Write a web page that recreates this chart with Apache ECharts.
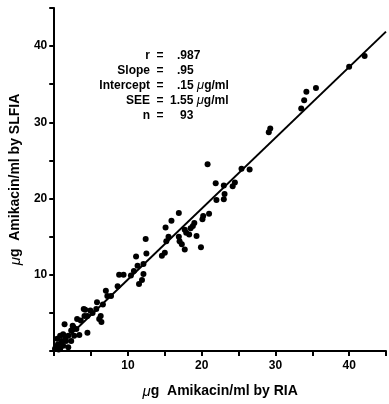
<!DOCTYPE html>
<html>
<head>
<meta charset="utf-8">
<script src="https://cdn.jsdelivr.net/npm/echarts@6/dist/echarts.min.js"></script>
<style>
  html, body { margin: 0; padding: 0; background: #fff; }
  #chart { width: 389px; height: 404px; }
</style>
</head>
<body>
<div id="chart"></div>
<script>
// RIA (x) vs SLFIA (y), µg amikacin/ml
const riaValues = [
  0.1, 0.3, 0.5, 0.8, 0.8, 1.0, 1.2, 1.2, 1.4, 1.6, 1.9, 1.9, 2.3, 2.3, 2.5, 2.7, 0.4, 0.6, 1.5, 2.6, 3.1,
  3.4, 3.6, 4.1, 4.5, 4.5, 4.9, 4.2, 5.7, 5.8, 6.3, 6.4, 6.1, 6.6, 7.0, 7.2, 4.0, 3.0, 5.2,
  8.6, 8.8, 9.4, 10.4, 10.8, 11.1, 11.3, 11.5, 11.9, 12.1, 12.1, 12.5, 12.4, 14.6, 15.0, 15.2, 15.5, 15.1, 15.9, 16.9, 7.7,
  16.9, 17.0, 17.3, 17.7, 17.7, 17.9, 18.3, 18.5, 18.8, 19.0, 19.3, 19.9, 20.1, 20.2, 21.0, 20.8, 21.9, 23.0, 23.1, 23.0, 22.0, 24.2, 24.5, 25.4, 26.5,
  29.1, 29.3, 33.5, 33.9, 34.2, 35.5, 40.0, 42.1
];
const slfiaValues = [
  0.3, 0.5, 0.9, 0.3, 2.0, 1.3, 0.7, 2.2, 3.5, 1.3, 0.5, 2.0, 1.3, 2.7, 3.3, 2.0, 1.6, 0.2, 1.8, 3.1, 4.2,
  2.1, 4.0, 4.6, 4.6, 2.4, 5.3, 5.4, 5.5, 6.4, 4.6, 3.8, 4.2, 6.1, 7.9, 7.2, 5.5, 2.9, 5.0,
  8.5, 10.0, 10.0, 9.9, 10.5, 12.4, 11.2, 8.8, 9.3, 10.1, 11.4, 12.8, 14.7, 12.5, 12.9, 14.4, 15.0, 16.2, 17.1, 18.1, 7.2,
  15.0, 14.4, 14.0, 13.3, 15.9, 15.5, 15.3, 16.1, 16.4, 16.8, 15.1, 13.6, 17.3, 17.7, 18.0, 24.5, 22.0, 21.7, 20.6, 19.9, 19.8, 21.6, 22.1, 23.9, 23.8,
  28.7, 29.2, 31.8, 32.9, 34.0, 34.5, 37.3, 38.7
];

// regression line as drawn in the figure (ends)
const fitX = [0, 45];
const fitY = [0.1, 41.9];

const statLabels = ['r', 'Slope', 'Intercept', 'SEE', 'n'];
const statValues = ['.987', '.95', '.15 \u03bcg/ml', '1.55 \u03bcg/ml', '93'];

const axisMax = 45;
const tickStep = 5;
const labelStep = 10;

const xName = '{mu|\u03bc}g  Amikacin/ml by RIA';
const yName = '{mu|\u03bc}g  Amikacin/ml by SLFIA';

const points = riaValues.map((x, i) => [x, slfiaValues[i]]);
const fitLine = fitX.map((x, i) => [x, fitY[i]]);

const font = '"Liberation Sans", Arial, Helvetica, sans-serif';
const nameStyle = {
  color: '#000', fontFamily: font, fontWeight: 'bold', fontSize: 14,
  rich: { mu: { fontFamily: font, fontStyle: 'italic', fontWeight: 'normal', fontSize: 15, color: '#000' } }
};

function axisBase(margin) {
  return {
    type: 'value',
    min: 0,
    max: axisMax,
    interval: tickStep,
    splitLine: { show: false },
    axisLine: { onZero: false, lineStyle: { color: '#000', width: 2 } },
    axisTick: { show: true, length: 5, lineStyle: { color: '#000', width: 2 } },
    axisLabel: {
      margin: margin,
      color: '#000', fontFamily: font, fontWeight: 'bold', fontSize: 12,
      formatter: (v) => (v > 0 && v % labelStep === 0 ? String(v) : '')
    },
    nameLocation: 'middle',
    nameTextStyle: nameStyle
  };
}

// stats block beside the y axis
const statRowTop = 56;
const statRowStep = 14.8;
const valueX = [177, 177, 177, 170, 180];
const statGraphics = [];
statLabels.forEach((label, i) => {
  const y = statRowTop + i * statRowStep;
  const textStyle = { fill: '#000', font: 'bold 12px ' + font, textVerticalAlign: 'middle' };
  statGraphics.push({ type: 'text', x: 150, y: y, style: Object.assign({}, textStyle, { text: label, textAlign: 'right' }) });
  statGraphics.push({ type: 'text', x: 160, y: y, style: Object.assign({}, textStyle, { text: '=', textAlign: 'center' }) });
  statGraphics.push({
    type: 'text', x: valueX[i], y: y,
    style: {
      text: statValues[i].replace('\u03bc', '{mu|\u03bc}'),
      fill: '#000', font: 'bold 12px ' + font, textVerticalAlign: 'middle', textAlign: 'left',
      rich: { mu: { fontStyle: 'italic', fontWeight: 'normal', fontSize: 13, fontFamily: font } }
    }
  });
});

const chart = echarts.init(document.getElementById('chart'), null, { renderer: 'canvas' });
chart.setOption({
  backgroundColor: '#fff',
  animation: false,
  grid: { left: 50, right: 0, top: 8, bottom: 52 },
  xAxis: Object.assign(axisBase(9), { name: xName, nameGap: 33 }),
  yAxis: Object.assign(axisBase(7), { name: yName, nameGap: 23, nameRotate: 90 }),
  graphic: statGraphics,
  series: [
    {
      type: 'scatter',
      data: points,
      symbolSize: 6,
      itemStyle: { color: '#000', opacity: 1 }
    },
    {
      type: 'line',
      data: fitLine,
      symbol: 'none',
      lineStyle: { color: '#000', width: 2 }
    }
  ]
});
</script>
</body>
</html>
